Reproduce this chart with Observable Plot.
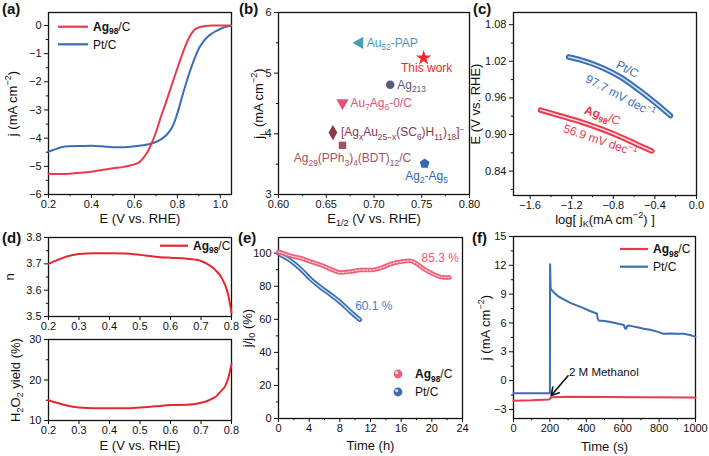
<!DOCTYPE html>
<html><head><meta charset="utf-8">
<script src="https://cdn.jsdelivr.net/npm/d3@7"></script>
<script src="https://cdn.jsdelivr.net/npm/@observablehq/plot@0.6"></script>
<style>
html,body{margin:0;padding:0;background:#fff;}
#fig{position:relative;width:709px;height:456px;overflow:hidden;background:#fff;font-family:"Liberation Sans",Arial,sans-serif;}
.pl{position:absolute;font:bold 15px "Liberation Sans",Arial,sans-serif;color:#111;line-height:18px;}
</style></head><body><div id="fig"></div>
<script>
// ---------------- data ----------------
// (a) LSV curves
const lsvE_ag = [0.20,0.25,0.30,0.35,0.40,0.45,0.50,0.55,0.58,0.60,0.62,0.64,0.66,0.68,0.70,0.72,0.74,0.76,0.78,0.80,0.82,0.84,0.86,0.88,0.90,0.93,0.96,1.00,1.05];
const lsvJ_ag = [-5.26,-5.27,-5.26,-5.23,-5.19,-5.13,-5.07,-5.02,-4.97,-4.93,-4.87,-4.72,-4.50,-4.19,-3.80,-3.32,-2.88,-2.43,-1.97,-1.52,-1.08,-0.68,-0.36,-0.15,-0.07,-0.02,0,0,0];
const lsvE_pt = [0.20,0.23,0.26,0.30,0.35,0.40,0.45,0.50,0.55,0.60,0.64,0.68,0.72,0.75,0.775,0.79,0.806,0.82,0.837,0.85,0.868,0.885,0.90,0.92,0.94,0.96,0.985,1.01,1.03,1.05];
const lsvJ_pt = [-4.48,-4.40,-4.32,-4.29,-4.28,-4.27,-4.29,-4.32,-4.32,-4.29,-4.25,-4.19,-4.06,-3.88,-3.62,-3.35,-2.97,-2.58,-2.14,-1.82,-1.42,-1.08,-0.82,-0.58,-0.41,-0.29,-0.18,-0.09,-0.04,-0.01];
const aLegend = ["*Ag_{98}*/C", "Pt/C"];

// (b) comparison
const catalysts = ["Au_{52}-PAP","This work","Ag_{213}","Au_{7}Ag_{6}-0/C","[Ag_{x}Au_{25\u2212x}(SC_{6})H_{11})_{18}]^{\u2212}","Ag_{29}(PPh_{3})_{4}(BDT)_{12}/C","Ag_{2}-Ag_{5}"];
const catE12 = [0.685,0.752,0.717,0.667,0.657,0.667,0.753];
const catJL  = [5.50,5.25,4.81,4.51,4.02,3.81,3.51];

// (c) Tafel
const tafelX_pt = [-1.23,-1.09,-0.90,-0.73,-0.57,-0.41,-0.25];
const tafelE_pt = [1.027,1.021,1.009,0.994,0.975,0.954,0.931];
const tafelX_ag = [-1.50,-1.30,-1.10,-0.90,-0.70,-0.55,-0.43];
const tafelE_ag = [0.940,0.930,0.920,0.908,0.894,0.882,0.873];
const tafelText = ["Pt/C","97.7 mV dec^{\u22121}","*Ag_{98}*/C","56.9 mV dec^{\u22121}"];
const tafelTextX = [-0.665,-0.734,-0.905,-0.927];
const tafelTextE = [1.007,0.963,0.931,0.890];

// (d) n and H2O2 yield
const nE   = [0.20,0.23,0.26,0.30,0.35,0.40,0.45,0.50,0.55,0.60,0.65,0.68,0.70,0.72,0.74,0.75,0.76,0.77,0.78,0.79,0.80];
const nVal = [3.700,3.715,3.728,3.737,3.740,3.740,3.739,3.734,3.727,3.723,3.720,3.716,3.711,3.700,3.684,3.673,3.660,3.642,3.617,3.578,3.515];
const hVal = [15.0,14.3,13.7,13.2,13.0,13.0,13.0,13.2,13.5,13.8,13.9,14.1,14.4,14.8,15.5,16.0,16.8,17.6,18.6,20.6,24.0];

// (e) stability
const stabT_ag = [0,0.3,1.6,2.9,4.2,5.5,6.8,8.1,9.4,10.7,12.0,13.3,14.6,15.9,17.2,18.1,19.0,19.8,20.7,21.6,22.3];
const stabV_ag = [100.8,100.4,98.4,97.0,94.9,92.9,90.4,88.3,88.9,89.8,89.8,91.0,93.4,94.8,95.4,93.4,90.4,88.3,86.3,85.3,85.3];
const stabT_pt = [0,0.3,1.6,2.9,4.2,5.5,6.8,8.1,9.4,10.6];
const stabV_pt = [100,99.0,95.4,90.4,84.3,79.3,74.9,70.2,64.6,59.8];
const pctText = ["85.3 %","60.1 %"];
const pctT = [18.65,10.0];
const pctV = [97,67.8];

// (f) methanol tolerance
const mT_ag = [0,100,198,201,210,300,500,700,1000];
const mJ_ag = [-2.10,-2.05,-1.95,-1.85,-1.72,-1.68,-1.70,-1.73,-1.75];
const mT_pt = [0,100,199,200,201,204,215,240,270,312,350,385,420,459,462,468,500,532,570,606,612,618,625,642,680,716,750,789,826,862,900,936,970,1000];
const mJ_pt = [-1.30,-1.30,-1.30,-1.30,12.1,9.6,9.3,8.85,8.5,8.1,7.8,7.55,7.25,6.96,6.5,6.25,6.2,6.1,5.95,5.8,5.45,5.4,5.7,5.7,5.55,5.4,5.3,5.1,4.87,4.9,4.88,4.87,4.75,4.55];
const methanolText = "2 M Methanol";
const methanolArrow = {t1: 300, j1: 0.5, t2: 207, j2: -1.55};

// tick values
const ticks = {
  aX:[0.2,0.4,0.6,0.8,1.0], aXm:[0.3,0.5,0.7,0.9], aY:[-6,-5,-4,-3,-2,-1,0], aYm:[-5.5,-4.5,-3.5,-2.5,-1.5,-0.5],
  bX:[0.60,0.65,0.70,0.75,0.80], bXm:[0.625,0.675,0.725,0.775], bY:[3,4,5,6], bYm:[3.5,4.5,5.5],
  cX:[-1.6,-1.2,-0.8,-0.4,0.0], cXm:[-1.4,-1.0,-0.6,-0.2], cY:[0.84,0.90,0.96,1.02,1.08], cYm:[0.81,0.87,0.93,0.99,1.05],
  dX:[0.2,0.3,0.4,0.5,0.6,0.7,0.8], dY1:[3.5,3.6,3.7,3.8], dY1m:[3.55,3.65,3.75], dY2:[10,20,30], dY2m:[15,25],
  eX:[0,4,8,12,16,20,24], eXm:[2,6,10,14,18,22], eY:[0,20,40,60,80,100], eYm:[10,30,50,70,90],
  fX:[0,200,400,600,800,1000], fXm:[100,300,500,700,900], fY:[-3,0,3,6,9,12,15], fYm:[-1.5,1.5,4.5,7.5,10.5,13.5]
};

// ---------------- helpers ----------------
const RED = "#e8394f", BLUE = "#3b6db3";
const FONT = '"Liberation Sans", Arial, sans-serif';
const fig = document.getElementById("fig");
const fmt = n => v => (v < 0 ? "\u2212" : "") + Math.abs(v).toFixed(n);
const zip2 = (xs, ys) => xs.map((x, i) => ({x, y: ys[i]}));

function axes(xMaj, xMin, xFmt, yMaj, yMin, yFmt) {
  const m = [
    Plot.axisX(xMaj, {tickSize: 4, tickPadding: 2, tickFormat: xFmt, label: null}),
    Plot.axisY(yMaj, {tickSize: 4, tickPadding: 3, tickFormat: yFmt, label: null})
  ];
  if (xMin.length) m.push(Plot.axisX(xMin, {tickSize: 2.2, tickFormat: () => "", label: null}));
  if (yMin.length) m.push(Plot.axisY(yMin, {tickSize: 2.2, tickFormat: () => "", label: null}));
  m.push(Plot.frame({stroke: "#111", strokeWidth: 1.3}));
  return m;
}
const xLabel = (s, dy) => Plot.text([s], {text: d => d, frameAnchor: "bottom", dy, lineAnchor: "middle", textAnchor: "middle", fontSize: 13, fill: "#111"});
const yLabel = (s, dx) => Plot.text([s], {text: d => d, frameAnchor: "left", dx, rotate: -90, lineAnchor: "middle", textAnchor: "middle", fontSize: 13, fill: "#111"});

function mk(o) {
  return Plot.plot({
    width: o.w, height: o.h, marginLeft: o.ml, marginRight: o.mr, marginTop: o.mt, marginBottom: o.mb,
    x: {domain: o.xd}, y: {domain: o.yd},
    style: {fontFamily: FONT, fontSize: "11px", background: "transparent", overflow: "visible", color: "#111"},
    marks: o.marks
  });
}
function place(svg, left, top) {
  svg.style.position = "absolute"; svg.style.left = left + "px"; svg.style.top = top + "px";
  fig.appendChild(svg); return svg;
}
function addLegend(svg, items, o) {
  const g = d3.select(svg).append("g").attr("font-family", FONT).attr("font-size", 12).attr("text-anchor", "start");
  items.forEach((it, i) => {
    const x = o.ml + o.x, y = o.mt + o.y + i * o.gap;
    if (o.kind === "line") {
      g.append("line").attr("x1", x).attr("x2", x + o.len).attr("y1", y).attr("y2", y)
        .attr("stroke", it.color).attr("stroke-width", 2.2);
    } else {
      g.append("circle").attr("cx", x).attr("cy", y).attr("r", 4.4).attr("fill", it.color);
      g.append("circle").attr("cx", x - 1.3).attr("cy", y - 1.3).attr("r", 1.6).attr("fill", "#fff").attr("opacity", 0.75);
    }
    g.append("text").attr("x", x + o.tx).attr("y", y).attr("dy", "0.35em").attr("fill", "#111").text(it.label);
  });
}
function richify(root) {
  const NS = "http://www.w3.org/2000/svg";
  root.querySelectorAll("text").forEach(t => {
    const leaves = t.querySelector("tspan") ? [...t.querySelectorAll("tspan")] : [t];
    for (const el of leaves) {
      const s = el.textContent;
      if (!/[_^]\{|\*/.test(s)) continue;
      const fs = parseFloat(getComputedStyle(el).fontSize) || 11;
      while (el.firstChild) el.removeChild(el.firstChild);
      let bold = false, shift = 0, m;
      const re = /\*|([_^])\{([^}]*)\}|[^*_^]+/g;
      while ((m = re.exec(s))) {
        if (m[0] === "*") { bold = !bold; continue; }
        const sp = document.createElementNS(NS, "tspan");
        let target = 0;
        if (m[1]) {
          sp.textContent = m[2];
          sp.setAttribute("font-size", (fs * 0.7).toFixed(2));
          target = m[1] === "_" ? fs * 0.28 : -fs * 0.4;
        } else sp.textContent = m[0];
        const d = target - shift;
        if (d) sp.setAttribute("dy", d.toFixed(2));
        shift = target;
        if (bold) sp.setAttribute("font-weight", "bold");
        el.appendChild(sp);
      }
    }
  });
}
const pentagon = {draw(ctx, size) {
  const R = Math.sqrt(size / (2.5 * Math.sin(2 * Math.PI / 5)));
  for (let i = 0; i < 5; i++) {
    const a = -Math.PI / 2 + i * 2 * Math.PI / 5;
    i ? ctx.lineTo(R * Math.cos(a), R * Math.sin(a)) : ctx.moveTo(R * Math.cos(a), R * Math.sin(a));
  }
  ctx.closePath();
}};

// ---------------- (a) ----------------
const pa = mk({w: 236, h: 225, ml: 48, mr: 5, mt: 12, mb: 31, xd: [0.2, 1.052], yd: [-6, 0.46], marks: [
  ...axes(ticks.aX, ticks.aXm, fmt(1), ticks.aY, ticks.aYm, fmt(0)),
  Plot.line(zip2(lsvE_pt, lsvJ_pt), {x: "x", y: "y", stroke: BLUE, strokeWidth: 2, curve: "monotone-x"}),
  Plot.line(zip2(lsvE_ag, lsvJ_ag), {x: "x", y: "y", stroke: RED, strokeWidth: 2, curve: "monotone-x"}),
  xLabel("E (V vs. RHE)", 24), yLabel("j (mA cm^{\u22122})", -36)
]});
place(pa, 0, 0);
addLegend(pa, [{color: RED, label: aLegend[0]}, {color: BLUE, label: aLegend[1]}], {kind: "line", ml: 48, mt: 12, x: 10, y: 14.7, gap: 17.6, len: 30, tx: 35});

// ---------------- (b) ----------------
const bStyle = [
  {sym: "triangle", rot: -90, r: 4.6, c: "#4b9bb8", dx: 7, dy: 0, a: "start"},
  {sym: "star", rot: 0, r: 4.8, c: "#f02a2a", dx: 3, dy: 10, a: "middle"},
  {sym: "circle", rot: 0, r: 4.3, c: "#555e79", dx: 7, dy: 0, a: "start"},
  {sym: "triangle", rot: 180, r: 4.6, c: "#e5507b", dx: 8, dy: 0, a: "start"},
  {sym: "diamond", rot: 0, r: 4.6, c: "#8a3747", dx: 8, dy: 0, a: "start"},
  {sym: "square", rot: 0, r: 4.2, c: "#a4525f", dx: 10, dy: 13, a: "middle"},
  {sym: pentagon, rot: 0, r: 4.5, c: "#3566ae", dx: 2, dy: 12.5, a: "middle"}
];
const bData = catalysts.map((name, i) => ({name, e: catE12[i], j: catJL[i]}));
const pb = mk({w: 236, h: 225, ml: 42, mr: 3, mt: 12, mb: 31, xd: [0.6, 0.8], yd: [3, 6], marks: [
  ...axes(ticks.bX, ticks.bXm, fmt(2), ticks.bY, ticks.bYm, fmt(0)),
  ...bData.map((d, i) => Plot.dot([d], {x: "e", y: "j", symbol: bStyle[i].sym, rotate: bStyle[i].rot, r: bStyle[i].r, fill: bStyle[i].c, stroke: "none"})),
  ...bData.map((d, i) => Plot.text([d], {x: "e", y: "j", text: "name", dx: bStyle[i].dx, dy: bStyle[i].dy, textAnchor: bStyle[i].a, fill: bStyle[i].c, fontSize: 12})),
  xLabel("E_{1/2} (V vs. RHE)", 24), yLabel("j_{L} (mA cm^{\u22122})", -20)
]});
place(pb, 236, 0);

// ---------------- (c) ----------------
const tStyle = [{c: BLUE, rot: 28}, {c: "#3f74b8", rot: 28}, {c: RED, rot: 19}, {c: RED, rot: 19}];
const tData = tafelText.map((s, i) => ({s, x: tafelTextX[i], y: tafelTextE[i]}));
const pc = mk({w: 237, h: 225, ml: 41, mr: 13, mt: 12, mb: 30, xd: [-1.76, 0], yd: [0.80, 1.10], marks: [
  ...axes(ticks.cX, ticks.cXm, fmt(1), ticks.cY, ticks.cYm, fmt(2)),
  Plot.line(zip2(tafelX_pt, tafelE_pt), {x: "x", y: "y", stroke: BLUE, strokeWidth: 5.5, strokeLinecap: "round", curve: "monotone-x"}),
  Plot.line(zip2(tafelX_pt, tafelE_pt), {x: "x", y: "y", stroke: "#d5e4f4", strokeWidth: 1.6, curve: "monotone-x"}),
  Plot.line(zip2(tafelX_ag, tafelE_ag), {x: "x", y: "y", stroke: RED, strokeWidth: 5.5, strokeLinecap: "round", curve: "monotone-x"}),
  Plot.line(zip2(tafelX_ag, tafelE_ag), {x: "x", y: "y", stroke: "#fbd6dc", strokeWidth: 1.6, curve: "monotone-x"}),
  ...tData.map((d, i) => Plot.text([d], {x: "x", y: "y", text: "s", rotate: tStyle[i].rot, fill: tStyle[i].c, fontSize: 12})),
  xLabel("log[ j_{K}(mA cm^{\u22122}) ]", 24), yLabel("E (V vs. RHE)", -38)
]});
place(pc, 472, 0);

// ---------------- (d) ----------------
const pd1 = mk({w: 236, h: 112, ml: 48, mr: 5, mt: 12, mb: 21, xd: [0.2, 0.8], yd: [3.5, 3.8], marks: [
  ...axes(ticks.dX, [], fmt(1), ticks.dY1, ticks.dY1m, fmt(1)),
  Plot.line(zip2(nE, nVal), {x: "x", y: "y", stroke: "#e8262f", strokeWidth: 2, curve: "monotone-x"}),
  yLabel("n", -39)
]});
place(pd1, 0, 225);
addLegend(pd1, [{color: "#e8262f", label: aLegend[0]}], {kind: "line", ml: 48, mt: 12, x: 112, y: 8.7, gap: 0, len: 28, tx: 33});
const pd2 = mk({w: 236, h: 119, ml: 48, mr: 5, mt: 2, mb: 36, xd: [0.2, 0.8], yd: [10, 30], marks: [
  ...axes(ticks.dX, [], fmt(1), ticks.dY2, ticks.dY2m, fmt(0)),
  Plot.line(zip2(nE, hVal), {x: "x", y: "y", stroke: "#e8262f", strokeWidth: 2, curve: "monotone-x"}),
  xLabel("E (V vs. RHE)", 25), yLabel("H_{2}O_{2} yield (%)", -33)
]});
place(pd2, 0, 337);

// ---------------- (e) ----------------
const E_RED = "#ef5d76", E_BLUE = "#3a6cb1";
const pctData = pctText.map((s, i) => ({s, t: pctT[i], v: pctV[i]}));
const pe = mk({w: 236, h: 231, ml: 42, mr: 10, mt: 12, mb: 38, xd: [0, 24], yd: [0, 109.5], marks: [
  ...axes(ticks.eX, ticks.eXm, fmt(0), ticks.eY, ticks.eYm, fmt(0)),
  Plot.line(zip2(stabT_pt, stabV_pt), {x: "x", y: "y", stroke: E_BLUE, strokeWidth: 4.6, strokeLinecap: "round", curve: "monotone-x"}),
  Plot.line(zip2(stabT_pt, stabV_pt), {x: "x", y: "y", stroke: "#c3d9ef", strokeWidth: 1.4, curve: "monotone-x"}),
  Plot.line(zip2(stabT_ag, stabV_ag), {x: "x", y: "y", stroke: E_RED, strokeWidth: 4.6, strokeLinecap: "round", curve: "monotone-x"}),
  Plot.line(zip2(stabT_ag, stabV_ag), {x: "x", y: "y", stroke: "#fbd3da", strokeWidth: 1.2, strokeDasharray: "2 1.5", curve: "monotone-x"}),
  Plot.text([pctData[0]], {x: "t", y: "v", text: "s", textAnchor: "start", fill: "#ee5a73", fontSize: 12}),
  Plot.text([pctData[1]], {x: "t", y: "v", text: "s", textAnchor: "start", fill: "#4a80c0", fontSize: 12}),
  xLabel("Time (h)", 27), yLabel("j/j_{0} (%)", -31)
]});
place(pe, 236, 225);
addLegend(pe, [{color: E_RED, label: aLegend[0]}, {color: E_BLUE, label: aLegend[1]}], {kind: "dot", ml: 42, mt: 12, x: 120, y: 137, gap: 18, tx: 17});

// ---------------- (f) ----------------
const pf = mk({w: 237, h: 231, ml: 41, mr: 14, mt: 11, mb: 38, xd: [0, 1000], yd: [-3.94, 15], marks: [
  ...axes(ticks.fX, ticks.fXm, fmt(0), ticks.fY, ticks.fYm, fmt(0)),
  Plot.line(zip2(mT_pt, mJ_pt), {x: "x", y: "y", stroke: BLUE, strokeWidth: 2}),
  Plot.line(zip2(mT_ag, mJ_ag), {x: "x", y: "y", stroke: RED, strokeWidth: 2}),
  Plot.arrow([methanolArrow], {x1: "t1", y1: "j1", x2: "t2", y2: "j2", stroke: "#111", strokeWidth: 1.6, headLength: 8}),
  Plot.text([{s: methanolText, t: 305, j: 0.9}], {x: "t", y: "j", text: "s", textAnchor: "start", fontSize: 11.5, fill: "#111"}),
  xLabel("Time (s)", 28), yLabel("j (mA cm^{\u22122})", -28)
]});
place(pf, 472, 225);
addLegend(pf, [{color: RED, label: aLegend[0]}, {color: BLUE, label: aLegend[1]}], {kind: "line", ml: 41, mt: 11, x: 107, y: 13, gap: 17.7, len: 28, tx: 33});

// panel letters
[["(a)", 2, 0], ["(b)", 239, 0], ["(c)", 473, 0], ["(d)", 2, 229], ["(e)", 238, 229], ["(f)", 472, 229]].forEach(([s, l, t]) => {
  const d = document.createElement("div"); d.className = "pl"; d.textContent = s;
  d.style.left = l + "px"; d.style.top = t + "px"; fig.appendChild(d);
});

fig.querySelectorAll("svg").forEach(richify);
</script></body></html>
